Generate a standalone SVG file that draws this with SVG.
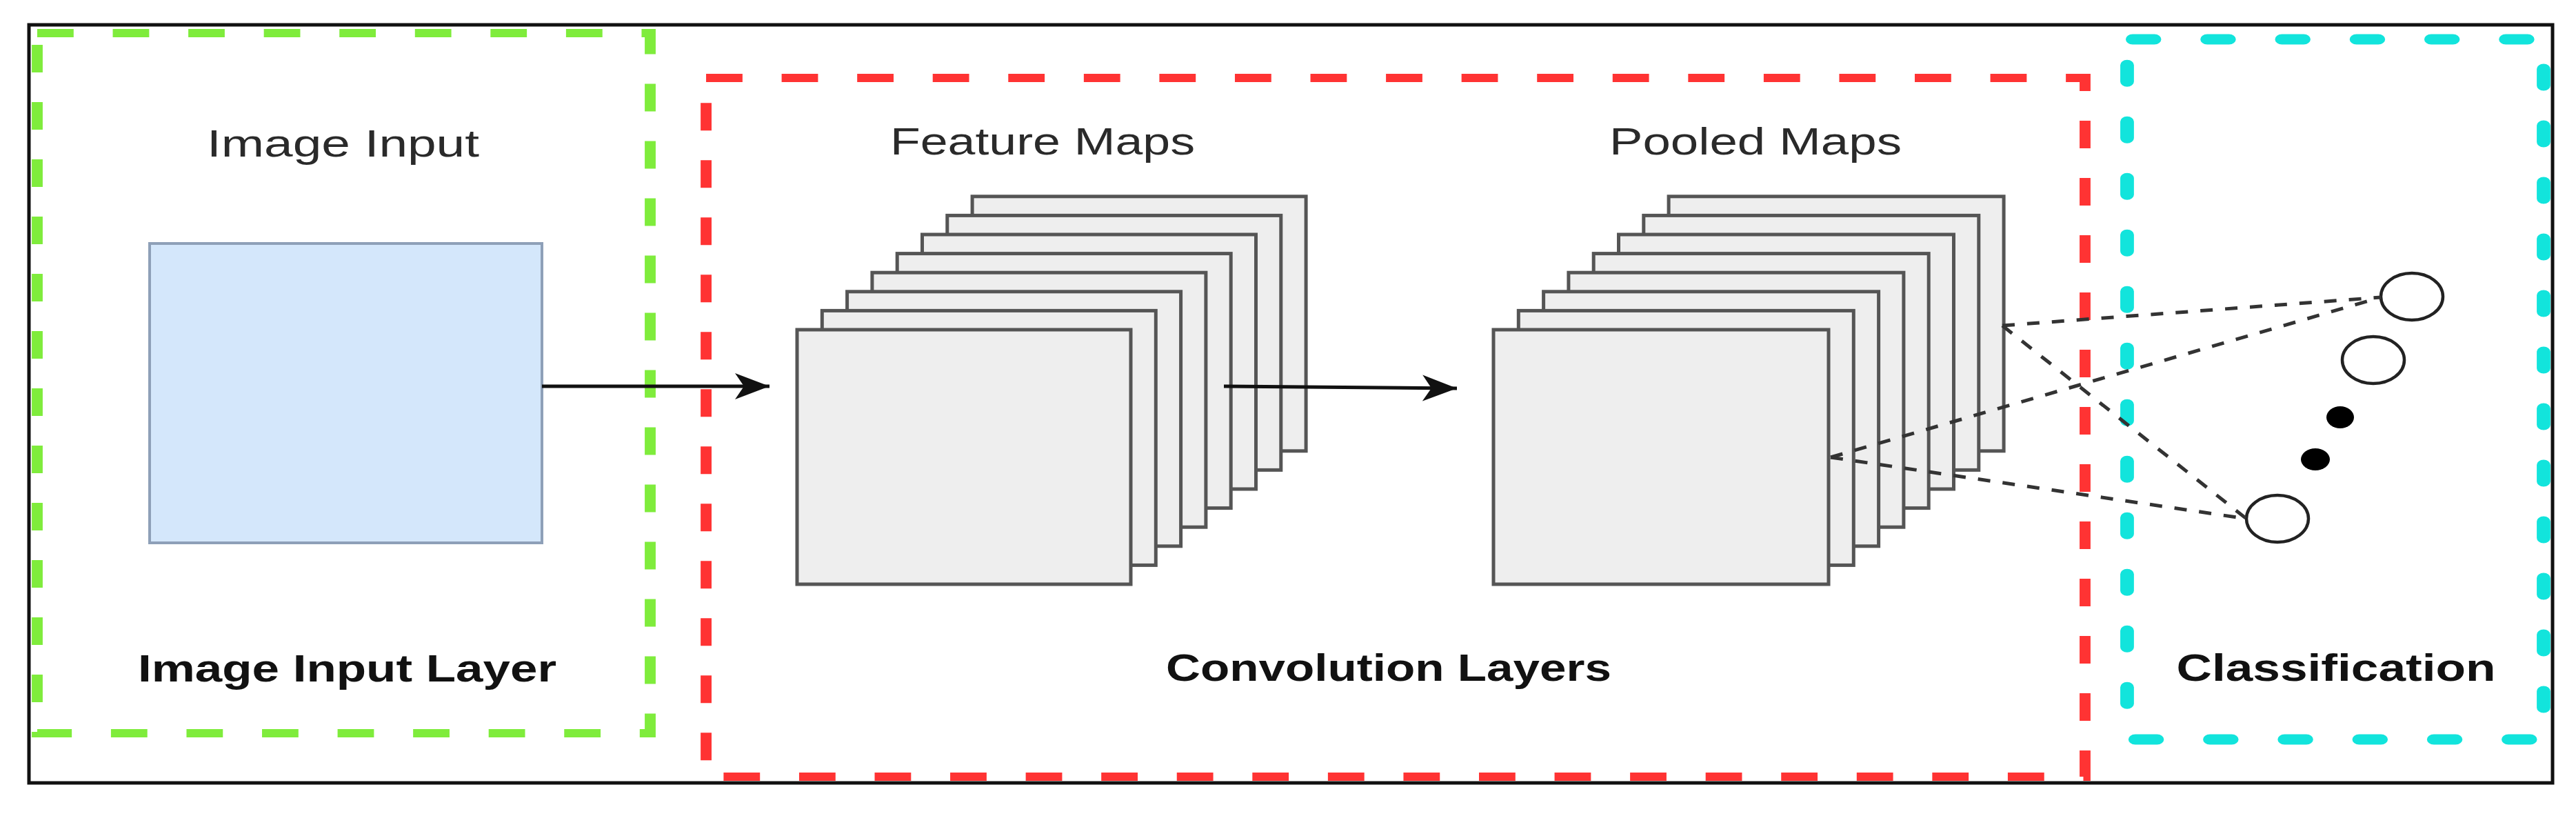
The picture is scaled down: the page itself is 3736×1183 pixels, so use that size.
<svg xmlns="http://www.w3.org/2000/svg" xmlns:xlink="http://www.w3.org/1999/xlink" width="3736" height="1183" viewBox="0 0 3736 1183">
  <style>
    .lbl { font-family: "Liberation Sans", Arial, sans-serif; font-size: 56px; fill: #2a2a2a; }
    .title { font-family: "Liberation Sans", Arial, sans-serif; font-size: 55px; font-weight: bold; fill: #111; }
    .map { fill: #eeeeee; stroke: #555555; stroke-width: 5; }
    .solid { stroke: #111; stroke-width: 5; fill: none; }
    .dash { stroke: #333; stroke-width: 5; stroke-dasharray: 18 18; fill: none; }
    .neuron { fill: #ffffff; stroke: #222; stroke-width: 4.5; }
    .dot { fill: #000; }
    .grp { fill: none; stroke-width: 12; stroke-dasharray: 40 43; }
  </style>
  <defs>
    <rect id="fmap" width="484" height="369" class="map"/>
    <rect id="pmap" width="486" height="369" class="map"/>
    <marker id="arr" markerUnits="userSpaceOnUse" markerWidth="52" markerHeight="40" refX="50" refY="20" orient="auto">
      <path d="M0,1 L50,20 L0,39 L13,20 z" fill="#111"/>
    </marker>
  </defs>

  <rect x="0" y="0" width="3736" height="1183" fill="#ffffff"/>

  <g id="frame">
    <rect x="42" y="36" width="3660" height="1099" fill="none" stroke="#111" stroke-width="5"/>
  </g>

  <g id="groups" transform="scale(1.32,1)">
    <rect id="input-layer-box" x="40.9" y="48" width="673.5" height="1015" class="grp" stroke="#7fec3c"/>
    <rect id="conv-layers-box" x="775.8" y="113" width="1515.1" height="1013" class="grp" stroke="#ff3333"/>
    <rect id="classification-box" x="2337.1" y="57" width="457.6" height="1015" rx="6" fill="none" stroke="#12e4dc" stroke-width="15" stroke-linecap="round" stroke-linejoin="round" stroke-dasharray="24 58"/>
  </g>

  <g id="image-input">
    <text class="lbl" x="497.5" y="227" text-anchor="middle" textLength="395" lengthAdjust="spacingAndGlyphs">Image Input</text>
    <rect x="217" y="353" width="569" height="434" fill="#d4e7fb" stroke="#8ea0b8" stroke-width="4"/>
  </g>

  <g id="feature-maps">
    <text class="lbl" x="1512" y="224" text-anchor="middle" textLength="442" lengthAdjust="spacingAndGlyphs">Feature Maps</text>
    <use xlink:href="#fmap" x="1410.1" y="284.8"/>
    <use xlink:href="#fmap" x="1373.8" y="312.4"/>
    <use xlink:href="#fmap" x="1337.5" y="340"/>
    <use xlink:href="#fmap" x="1301.2" y="367.6"/>
    <use xlink:href="#fmap" x="1264.9" y="395.2"/>
    <use xlink:href="#fmap" x="1228.6" y="422.8"/>
    <use xlink:href="#fmap" x="1192.3" y="450.4"/>
    <use xlink:href="#fmap" x="1156" y="478"/>
  </g>

  <g id="pooled-maps">
    <text class="lbl" x="2546" y="224" text-anchor="middle" textLength="424" lengthAdjust="spacingAndGlyphs">Pooled Maps</text>
    <use xlink:href="#pmap" x="2420.1" y="284.8"/>
    <use xlink:href="#pmap" x="2383.8" y="312.4"/>
    <use xlink:href="#pmap" x="2347.5" y="340"/>
    <use xlink:href="#pmap" x="2311.2" y="367.6"/>
    <use xlink:href="#pmap" x="2274.9" y="395.2"/>
    <use xlink:href="#pmap" x="2238.6" y="422.8"/>
    <use xlink:href="#pmap" x="2202.3" y="450.4"/>
    <use xlink:href="#pmap" x="2166" y="478"/>
  </g>

  <g id="output-neurons">
    <ellipse cx="3498" cy="430" rx="45" ry="34" class="neuron"/>
    <ellipse cx="3442" cy="522" rx="45" ry="34" class="neuron"/>
    <ellipse cx="3394" cy="605" rx="20" ry="16" class="dot"/>
    <ellipse cx="3358" cy="666" rx="21" ry="16" class="dot"/>
    <ellipse cx="3303" cy="752" rx="45" ry="34" class="neuron"/>
  </g>

  <g id="connectors">
    <line x1="786" y1="560" x2="1116" y2="560" class="solid" marker-end="url(#arr)"/>
    <line x1="1775" y1="560" x2="2113" y2="563" class="solid" marker-end="url(#arr)"/>
    <line x1="2904" y1="472" x2="3453" y2="431" class="dash"/>
    <line x1="2904" y1="472" x2="3258" y2="752" class="dash"/>
    <line x1="2655" y1="663" x2="3453" y2="431" class="dash"/>
    <line x1="2655" y1="663" x2="3258" y2="752" class="dash"/>
  </g>

  <g id="layer-titles">
    <text class="title" x="503.5" y="988" text-anchor="middle" textLength="607" lengthAdjust="spacingAndGlyphs">Image Input Layer</text>
    <text class="title" x="2014" y="987" text-anchor="middle" textLength="646" lengthAdjust="spacingAndGlyphs">Convolution Layers</text>
    <text class="title" x="3388" y="987" text-anchor="middle" textLength="463" lengthAdjust="spacingAndGlyphs">Classification</text>
  </g>
</svg>
